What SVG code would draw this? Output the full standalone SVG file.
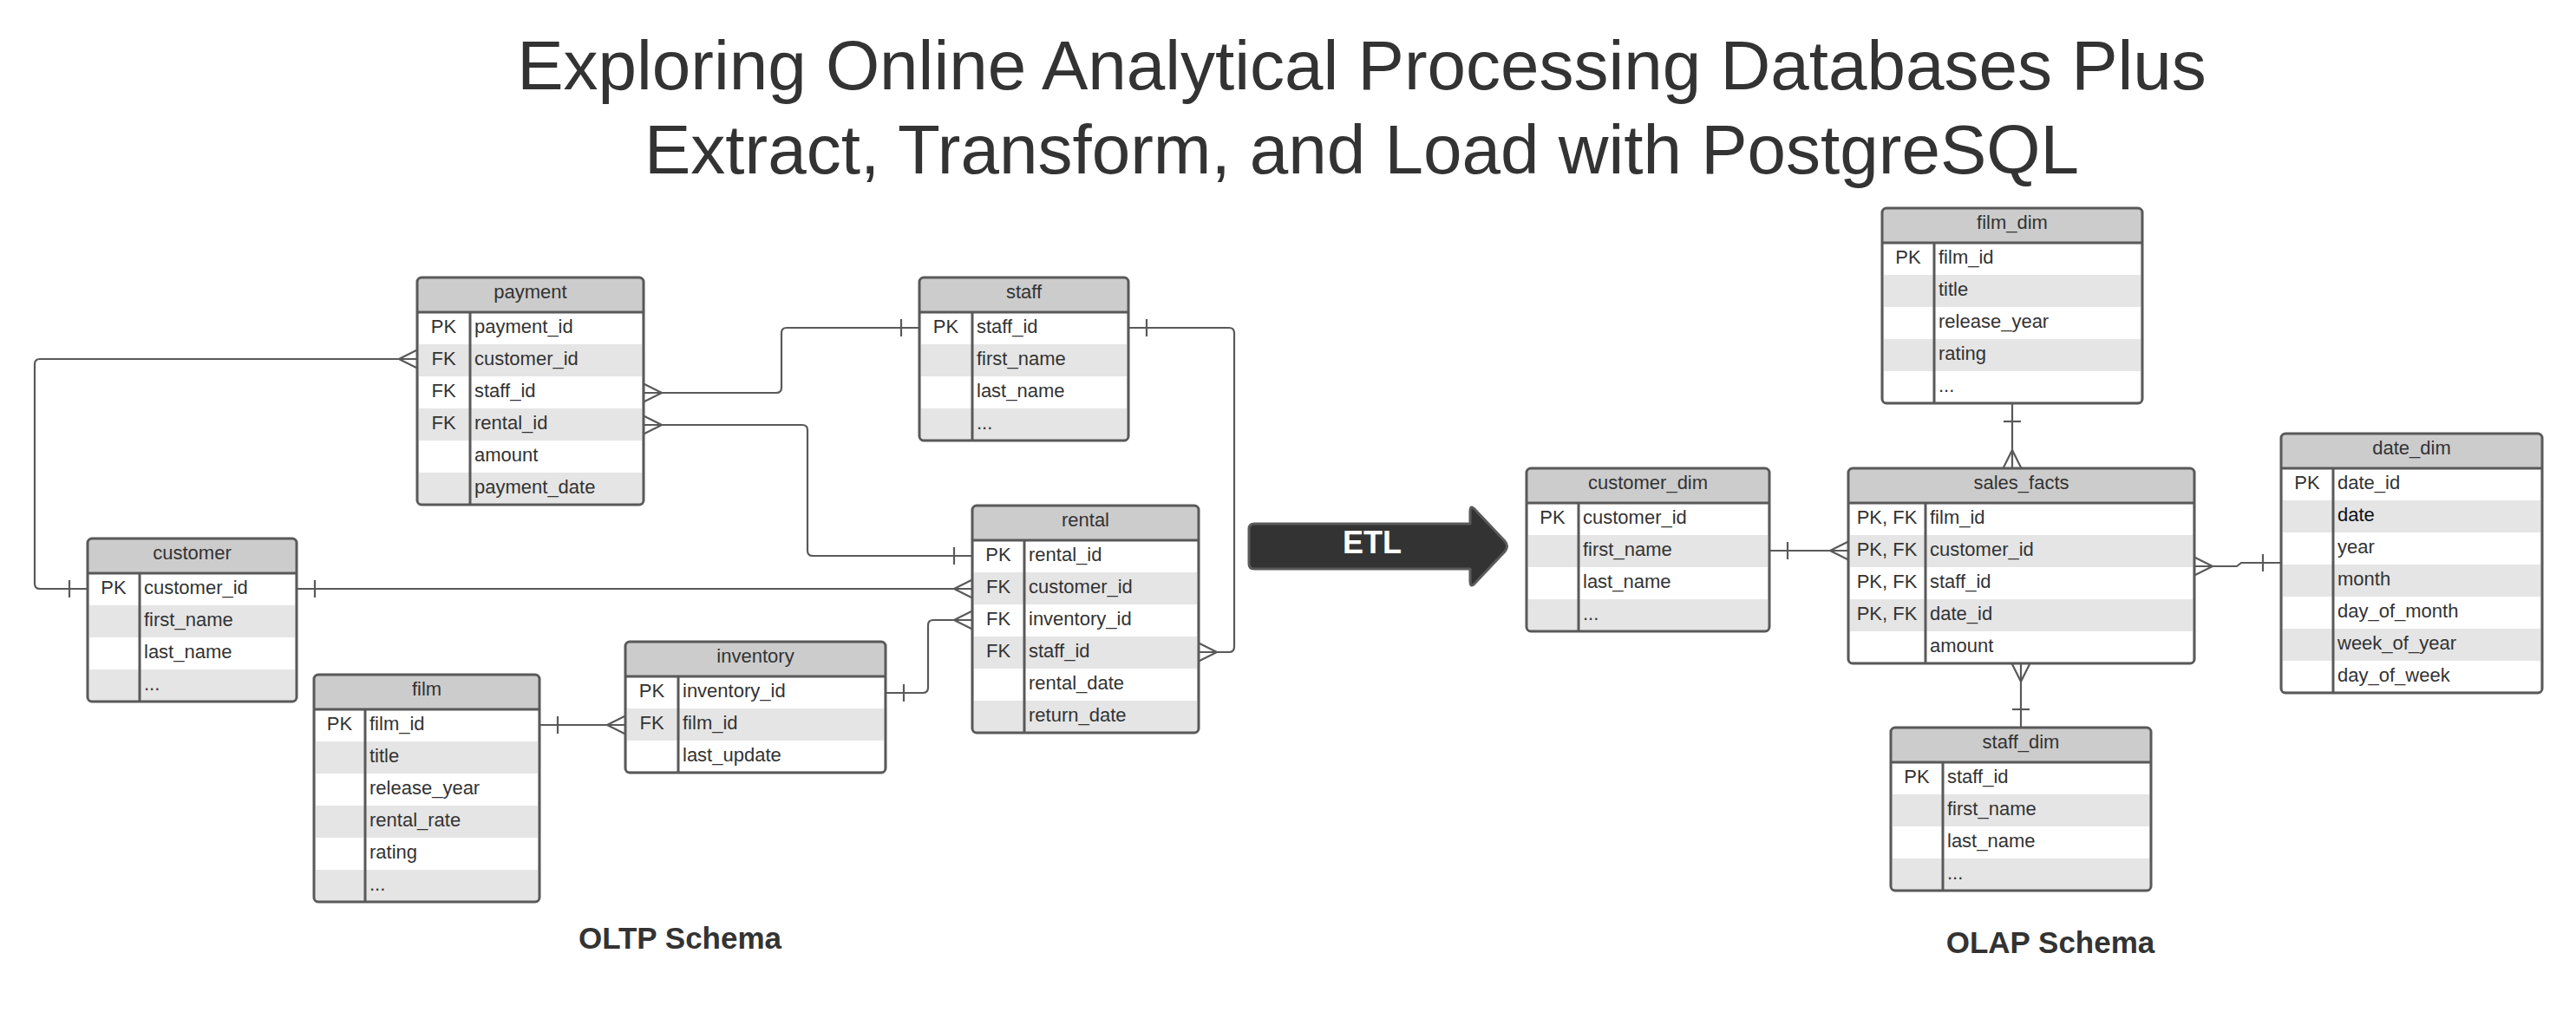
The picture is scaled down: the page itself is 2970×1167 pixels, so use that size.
<svg xmlns="http://www.w3.org/2000/svg" width="2970" height="1167" viewBox="0 0 2970 1167">
<style>
text{font-family:"Liberation Sans",Arial,sans-serif;fill:#333333}
.title{font-size:80px;text-anchor:middle}
.lbl{font-size:35px;font-weight:bold;text-anchor:middle}
.hd{fill:#cccccc}
.body{fill:#ffffff}
.st{fill:#e5e5e5}
.bd{fill:none;stroke:#595959;stroke-width:3}
.ln{stroke:#595959;stroke-width:3}
.h{font-size:22px;text-anchor:middle}
.k{font-size:22px;text-anchor:middle}
.f{font-size:22px}
.conn path{fill:none;stroke:#595959;stroke-width:2.2;marker-start:url(#one)}
.conn path.m{marker-end:url(#many)}
.conn path.sm{marker-start:url(#many2);marker-end:url(#one2)}
.etl{fill:#333333;stroke:#5a5a5a;stroke-width:3;stroke-linejoin:round}
.etlt{font-size:36px;font-weight:bold;fill:#ffffff;text-anchor:middle}
</style>
<defs>
<marker id="many" markerUnits="userSpaceOnUse" markerWidth="24" markerHeight="24" refX="21" refY="12" orient="auto" overflow="visible"><path d="M0,12 L21,1.5 M0,12 L21,22.5" fill="none" stroke="#595959" stroke-width="2.2"/></marker>
<marker id="many2" markerUnits="userSpaceOnUse" markerWidth="24" markerHeight="24" refX="21" refY="12" orient="auto-start-reverse" overflow="visible"><path d="M0,12 L21,1.5 M0,12 L21,22.5" fill="none" stroke="#595959" stroke-width="2.2"/></marker>
<marker id="one" markerUnits="userSpaceOnUse" markerWidth="24" markerHeight="24" refX="21" refY="12" orient="auto-start-reverse" overflow="visible"><path d="M0,2 L0,22" fill="none" stroke="#595959" stroke-width="2.2"/></marker>
<marker id="one2" markerUnits="userSpaceOnUse" markerWidth="24" markerHeight="24" refX="21" refY="12" orient="auto" overflow="visible"><path d="M0,2 L0,22" fill="none" stroke="#595959" stroke-width="2.2"/></marker>
</defs>
<rect width="2970" height="1167" fill="#ffffff"/>

<g id="title">
<text class="title" x="1570" y="103">Exploring Online Analytical Processing Databases Plus</text>
<text class="title" x="1570" y="200">Extract, Transform, and Load with PostgreSQL</text>
</g>

<g class="conn" id="connectors">
<path class="m" d="M101,679 H46 Q40,679 40,673 V420 Q40,414 46,414 H481"/>
<path class="sm" d="M742,453 H895 Q901,453 901,447 V384 Q901,378 907,378 H1060"/>
<path class="sm" d="M742,490 H925 Q931,490 931,496 V635 Q931,641 937,641 H1121"/>
<path class="m" d="M342,679 H1121"/>
<path class="m" d="M1021,799 H1064 Q1070,799 1070,793 V721 Q1070,715 1076,715 H1121"/>
<path class="m" d="M622,836 H721"/>
<path class="m" d="M1301,378 H1417 Q1423,378 1423,384 V746 Q1423,752 1417,752 H1382"/>
<path class="m" d="M2040,635 H2131"/>
<path class="m" d="M2320,465 V540"/>
<path class="m" d="M2630,649 H2584 L2579,653 H2530"/>
<path class="m" d="M2330,839 V765"/>
</g>

<g id="payment">
<rect class="hd" x="481" y="320" width="261" height="262" rx="5"/>
<rect class="body" x="482.5" y="360" width="258" height="220.5"/>
<rect class="st" x="482.5" y="397" width="258" height="37"/>
<rect class="st" x="482.5" y="471" width="258" height="37"/>
<rect class="st" x="482.5" y="545" width="258" height="35.5"/>
<line class="ln" x1="481" y1="360" x2="742" y2="360"/>
<line class="ln" x1="542" y1="360" x2="542" y2="582"/>
<rect class="bd" x="481" y="320" width="261" height="262" rx="5"/>
<text class="h" x="611.5" y="344">payment</text>
<text class="k" x="511.5" y="383.5">PK</text><text class="f" x="547" y="383.5">payment_id</text>
<text class="k" x="511.5" y="420.5">FK</text><text class="f" x="547" y="420.5">customer_id</text>
<text class="k" x="511.5" y="457.5">FK</text><text class="f" x="547" y="457.5">staff_id</text>
<text class="k" x="511.5" y="494.5">FK</text><text class="f" x="547" y="494.5">rental_id</text>
<text class="f" x="547" y="531.5">amount</text>
<text class="f" x="547" y="568.5">payment_date</text>
</g>

<g id="customer">
<rect class="hd" x="101" y="621" width="241" height="188" rx="5"/>
<rect class="body" x="102.5" y="661" width="238" height="146.5"/>
<rect class="st" x="102.5" y="698" width="238" height="37"/>
<rect class="st" x="102.5" y="772" width="238" height="35.5"/>
<line class="ln" x1="101" y1="661" x2="342" y2="661"/>
<line class="ln" x1="161" y1="661" x2="161" y2="809"/>
<rect class="bd" x="101" y="621" width="241" height="188" rx="5"/>
<text class="h" x="221.5" y="645">customer</text>
<text class="k" x="131" y="684.5">PK</text><text class="f" x="166" y="684.5">customer_id</text>
<text class="f" x="166" y="721.5">first_name</text>
<text class="f" x="166" y="758.5">last_name</text>
<text class="f" x="166" y="795.5">...</text>
</g>

<g id="film">
<rect class="hd" x="362" y="778" width="260" height="262" rx="5"/>
<rect class="body" x="363.5" y="818" width="257" height="220.5"/>
<rect class="st" x="363.5" y="855" width="257" height="37"/>
<rect class="st" x="363.5" y="929" width="257" height="37"/>
<rect class="st" x="363.5" y="1003" width="257" height="35.5"/>
<line class="ln" x1="362" y1="818" x2="622" y2="818"/>
<line class="ln" x1="421" y1="818" x2="421" y2="1040"/>
<rect class="bd" x="362" y="778" width="260" height="262" rx="5"/>
<text class="h" x="492" y="802">film</text>
<text class="k" x="391.5" y="841.5">PK</text><text class="f" x="426" y="841.5">film_id</text>
<text class="f" x="426" y="878.5">title</text>
<text class="f" x="426" y="915.5">release_year</text>
<text class="f" x="426" y="952.5">rental_rate</text>
<text class="f" x="426" y="989.5">rating</text>
<text class="f" x="426" y="1026.5">...</text>
</g>

<g id="inventory">
<rect class="hd" x="721" y="740" width="300" height="151" rx="5"/>
<rect class="body" x="722.5" y="780" width="297" height="109.5"/>
<rect class="st" x="722.5" y="817" width="297" height="37"/>
<line class="ln" x1="721" y1="780" x2="1021" y2="780"/>
<line class="ln" x1="782" y1="780" x2="782" y2="891"/>
<rect class="bd" x="721" y="740" width="300" height="151" rx="5"/>
<text class="h" x="871" y="764">inventory</text>
<text class="k" x="751.5" y="803.5">PK</text><text class="f" x="787" y="803.5">inventory_id</text>
<text class="k" x="751.5" y="840.5">FK</text><text class="f" x="787" y="840.5">film_id</text>
<text class="f" x="787" y="877.5">last_update</text>
</g>

<g id="rental">
<rect class="hd" x="1121" y="583" width="261" height="262" rx="5"/>
<rect class="body" x="1122.5" y="623" width="258" height="220.5"/>
<rect class="st" x="1122.5" y="660" width="258" height="37"/>
<rect class="st" x="1122.5" y="734" width="258" height="37"/>
<rect class="st" x="1122.5" y="808" width="258" height="35.5"/>
<line class="ln" x1="1121" y1="623" x2="1382" y2="623"/>
<line class="ln" x1="1181" y1="623" x2="1181" y2="845"/>
<rect class="bd" x="1121" y="583" width="261" height="262" rx="5"/>
<text class="h" x="1251.5" y="607">rental</text>
<text class="k" x="1151" y="646.5">PK</text><text class="f" x="1186" y="646.5">rental_id</text>
<text class="k" x="1151" y="683.5">FK</text><text class="f" x="1186" y="683.5">customer_id</text>
<text class="k" x="1151" y="720.5">FK</text><text class="f" x="1186" y="720.5">inventory_id</text>
<text class="k" x="1151" y="757.5">FK</text><text class="f" x="1186" y="757.5">staff_id</text>
<text class="f" x="1186" y="794.5">rental_date</text>
<text class="f" x="1186" y="831.5">return_date</text>
</g>

<g id="staff">
<rect class="hd" x="1060" y="320" width="241" height="188" rx="5"/>
<rect class="body" x="1061.5" y="360" width="238" height="146.5"/>
<rect class="st" x="1061.5" y="397" width="238" height="37"/>
<rect class="st" x="1061.5" y="471" width="238" height="35.5"/>
<line class="ln" x1="1060" y1="360" x2="1301" y2="360"/>
<line class="ln" x1="1121" y1="360" x2="1121" y2="508"/>
<rect class="bd" x="1060" y="320" width="241" height="188" rx="5"/>
<text class="h" x="1180.5" y="344">staff</text>
<text class="k" x="1090.5" y="383.5">PK</text><text class="f" x="1126" y="383.5">staff_id</text>
<text class="f" x="1126" y="420.5">first_name</text>
<text class="f" x="1126" y="457.5">last_name</text>
<text class="f" x="1126" y="494.5">...</text>
</g>

<g id="etl">
<path class="etl" d="M1446,604 H1695 V590 Q1695,581 1701,588 L1735,624 Q1740,630 1735,636 L1701,672 Q1695,679 1695,670 V656 H1446 Q1440,656 1440,650 V610 Q1440,604 1446,604 Z"/>
<text class="etlt" x="1582" y="638">ETL</text>
</g>

<g id="customer_dim">
<rect class="hd" x="1760" y="540" width="280" height="188" rx="5"/>
<rect class="body" x="1761.5" y="580" width="277" height="146.5"/>
<rect class="st" x="1761.5" y="617" width="277" height="37"/>
<rect class="st" x="1761.5" y="691" width="277" height="35.5"/>
<line class="ln" x1="1760" y1="580" x2="2040" y2="580"/>
<line class="ln" x1="1820" y1="580" x2="1820" y2="728"/>
<rect class="bd" x="1760" y="540" width="280" height="188" rx="5"/>
<text class="h" x="1900" y="564">customer_dim</text>
<text class="k" x="1790" y="603.5">PK</text><text class="f" x="1825" y="603.5">customer_id</text>
<text class="f" x="1825" y="640.5">first_name</text>
<text class="f" x="1825" y="677.5">last_name</text>
<text class="f" x="1825" y="714.5">...</text>
</g>

<g id="film_dim">
<rect class="hd" x="2170" y="240" width="300" height="225" rx="5"/>
<rect class="body" x="2171.5" y="280" width="297" height="183.5"/>
<rect class="st" x="2171.5" y="317" width="297" height="37"/>
<rect class="st" x="2171.5" y="391" width="297" height="37"/>
<line class="ln" x1="2170" y1="280" x2="2470" y2="280"/>
<line class="ln" x1="2230" y1="280" x2="2230" y2="465"/>
<rect class="bd" x="2170" y="240" width="300" height="225" rx="5"/>
<text class="h" x="2320" y="264">film_dim</text>
<text class="k" x="2200" y="303.5">PK</text><text class="f" x="2235" y="303.5">film_id</text>
<text class="f" x="2235" y="340.5">title</text>
<text class="f" x="2235" y="377.5">release_year</text>
<text class="f" x="2235" y="414.5">rating</text>
<text class="f" x="2235" y="451.5">...</text>
</g>

<g id="sales_facts">
<rect class="hd" x="2131" y="540" width="399" height="225" rx="5"/>
<rect class="body" x="2132.5" y="580" width="396" height="183.5"/>
<rect class="st" x="2132.5" y="617" width="396" height="37"/>
<rect class="st" x="2132.5" y="691" width="396" height="37"/>
<line class="ln" x1="2131" y1="580" x2="2530" y2="580"/>
<line class="ln" x1="2220" y1="580" x2="2220" y2="765"/>
<rect class="bd" x="2131" y="540" width="399" height="225" rx="5"/>
<text class="h" x="2330.5" y="564">sales_facts</text>
<text class="k" x="2175.5" y="603.5">PK, FK</text><text class="f" x="2225" y="603.5">film_id</text>
<text class="k" x="2175.5" y="640.5">PK, FK</text><text class="f" x="2225" y="640.5">customer_id</text>
<text class="k" x="2175.5" y="677.5">PK, FK</text><text class="f" x="2225" y="677.5">staff_id</text>
<text class="k" x="2175.5" y="714.5">PK, FK</text><text class="f" x="2225" y="714.5">date_id</text>
<text class="f" x="2225" y="751.5">amount</text>
</g>

<g id="date_dim">
<rect class="hd" x="2630" y="500" width="301" height="299" rx="5"/>
<rect class="body" x="2631.5" y="540" width="298" height="257.5"/>
<rect class="st" x="2631.5" y="577" width="298" height="37"/>
<rect class="st" x="2631.5" y="651" width="298" height="37"/>
<rect class="st" x="2631.5" y="725" width="298" height="37"/>
<line class="ln" x1="2630" y1="540" x2="2931" y2="540"/>
<line class="ln" x1="2690" y1="540" x2="2690" y2="799"/>
<rect class="bd" x="2630" y="500" width="301" height="299" rx="5"/>
<text class="h" x="2780.5" y="524">date_dim</text>
<text class="k" x="2660" y="563.5">PK</text><text class="f" x="2695" y="563.5">date_id</text>
<text class="f" x="2695" y="600.5" style="fill:#111111">date</text>
<text class="f" x="2695" y="637.5">year</text>
<text class="f" x="2695" y="674.5">month</text>
<text class="f" x="2695" y="711.5">day_of_month</text>
<text class="f" x="2695" y="748.5">week_of_year</text>
<text class="f" x="2695" y="785.5">day_of_week</text>
</g>

<g id="staff_dim">
<rect class="hd" x="2180" y="839" width="300" height="188" rx="5"/>
<rect class="body" x="2181.5" y="879" width="297" height="146.5"/>
<rect class="st" x="2181.5" y="916" width="297" height="37"/>
<rect class="st" x="2181.5" y="990" width="297" height="35.5"/>
<line class="ln" x1="2180" y1="879" x2="2480" y2="879"/>
<line class="ln" x1="2240" y1="879" x2="2240" y2="1027"/>
<rect class="bd" x="2180" y="839" width="300" height="188" rx="5"/>
<text class="h" x="2330" y="863">staff_dim</text>
<text class="k" x="2210" y="902.5">PK</text><text class="f" x="2245" y="902.5">staff_id</text>
<text class="f" x="2245" y="939.5">first_name</text>
<text class="f" x="2245" y="976.5">last_name</text>
<text class="f" x="2245" y="1013.5">...</text>
</g>

<g id="labels">
<text class="lbl" x="784" y="1094">OLTP Schema</text>
<text class="lbl" x="2364" y="1099">OLAP Schema</text>
</g>
</svg>
